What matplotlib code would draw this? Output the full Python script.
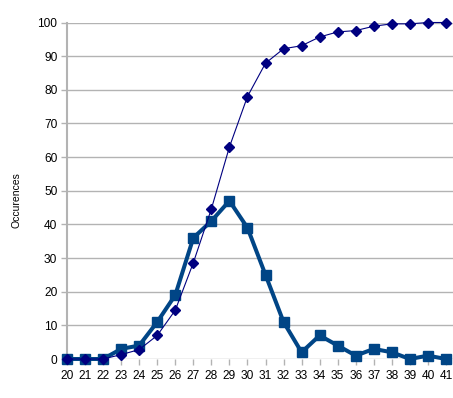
import matplotlib
matplotlib.use("Agg")
import matplotlib.pyplot as plt

categories = list(range(20, 42))
occurrences = [0, 0, 0, 3, 4, 11, 19, 36, 41, 47, 39, 25, 11, 2, 7, 4, 1, 3, 2, 0, 1, 0]
cumulative = [0, 0, 0, 1.3, 2.8, 7.0, 14.5, 28.6, 44.6, 63.0, 78.0, 87.9, 92.2, 93.1,
              95.7, 97.2, 97.6, 98.9, 99.6, 99.6, 100, 100]
yticks = list(range(0, 101, 10))

plt.rcParams['font.family'] = ['Liberation Sans', 'DejaVu Sans']

fig = plt.figure(figsize=(4.53, 3.98), dpi=100)
ax = fig.add_axes([67/453, 39/398, 386/453, (359-22.5)/398])

grid_c = '#b3b3b3'
for y in yticks:
    ax.axhline(y, color=grid_c, lw=1.0, zorder=1)

ax.plot(categories, occurrences, color='#004586', lw=2.9, marker='s', ms=7.2,
        clip_on=False, zorder=3)
ax.plot(categories, cumulative, color='#000080', lw=0.8, marker='D', ms=5.5,
        clip_on=False, zorder=4)

ax.set_xlim(20, 41.39)
ax.set_ylim(0, 100)
ax.set_xticks(categories)
ax.set_xticklabels([str(c) for c in categories])
ax.set_yticks(yticks)

for s in ['top', 'right', 'bottom']:
    ax.spines[s].set_visible(False)
ax.spines['left'].set_color(grid_c)
ax.spines['left'].set_linewidth(1.5)

ax.tick_params(axis='x', length=4, width=1, color=grid_c, pad=4, labelsize=8.6, labelcolor='black')
ax.tick_params(axis='y', length=4, width=1, color=grid_c, pad=3, labelsize=8.6, labelcolor='black')

fig.text(17/453, 1 - 200/398, 'Occurences', rotation=90, ha='center', va='center', fontsize=7.5)

fig.savefig('out.png', dpi=100)
